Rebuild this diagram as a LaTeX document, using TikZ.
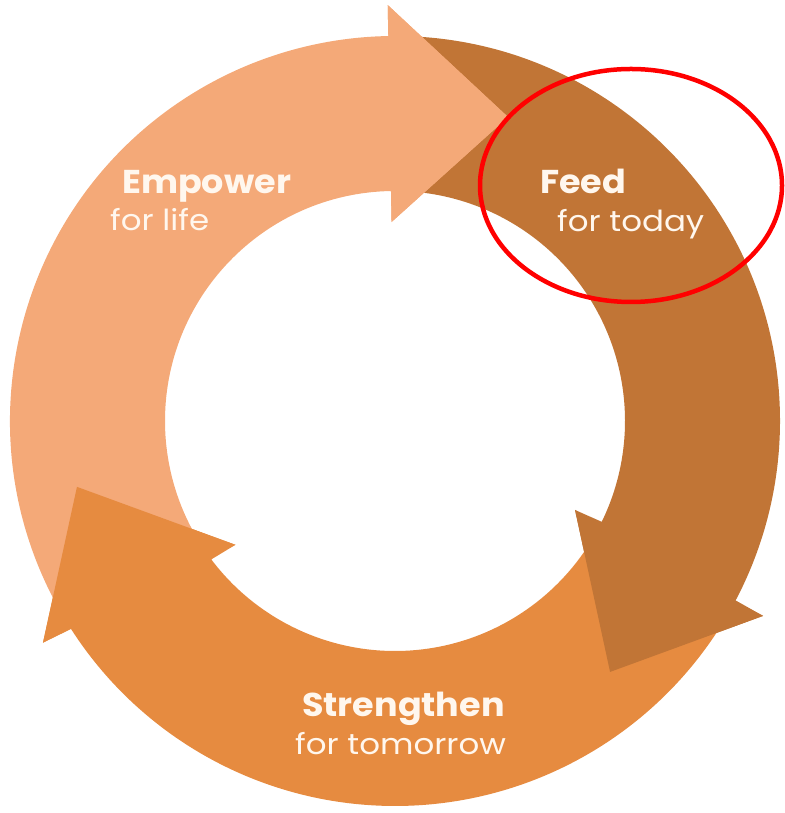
\documentclass[tikz,border=0pt]{standalone}
\usepackage{fontspec}
\setmainfont{Poppins}
\newfontfamily\wideboldfont{Poppins}[FakeStretch=1.06]
\newfontfamily\widethinfont{Poppins}[FakeStretch=1.12]
\usepackage{tikz}

\definecolor{lightor}{RGB}{244,169,120}
\definecolor{brownor}{RGB}{193,117,54}
\definecolor{midor}{RGB}{230,139,64}
\definecolor{cream}{RGB}{255,247,238}

\begin{document}
\begin{tikzpicture}[x=1pt,y=1pt,
    bold/.style={anchor=base west,inner sep=0pt,text=cream,font=\wideboldfont\fontsize{33}{33}\selectfont\bfseries},
    thin/.style={anchor=base west,inner sep=0pt,text=cream,font=\widethinfont\fontsize{29}{29}\selectfont}]

\useasboundingbox (0,0) rectangle (784,813);

\coordinate (c) at (395,392);

\begin{scope}[shift={(c)}]
% arrows, body and head in one path
\fill[brownor] (88:385) arc[start angle=88,end angle=-28,radius=385] -- (-27.9:416.5) -- (-49.4:330.5) -- (-26.3:200.8) -- (-26:230) arc[start angle=-26,end angle=88,radius=230] -- cycle;
\fill[midor] (-32.5:385) arc[start angle=-32.5,end angle=-147.3,radius=385] -- (212.2:416) -- (191.7:324.8) -- (217.8:202) -- (-143:230) arc[start angle=-143,end angle=-32.5,radius=230] -- cycle;
\fill[lightor] (212:385) arc[start angle=212,end angle=91,radius=385] -- (91:416) -- (69.6:324.3) -- (91:199) -- (91:230) arc[start angle=91,end angle=212,radius=230] -- cycle;

% heads again on top
\fill[lightor] (91:416) -- (69.6:324.3) -- (91:199) -- cycle;
\fill[brownor] (-27.9:416.5) -- (-49.4:330.5) -- (-26.3:200.8) -- cycle;
\fill[midor] (212.2:416) -- (191.7:324.8) -- (217.8:202) -- cycle;
\end{scope}

\node[bold] (empower) at (122,619) {Empower};
\node[thin] (life) at (110,582) {for life};
\node[bold] (feed) at (540,619.5) {Feed};
\node[thin] (today) at (557,581) {for today};
\node[bold] (strengthen) at (302,96) {Strengthen};
\node[thin] (tomorrow) at (295,58) {for tomorrow};

\draw[red,line width=4.5pt] (631,627.5) ellipse[x radius=151,y radius=116.5];

\end{tikzpicture}
\end{document}
